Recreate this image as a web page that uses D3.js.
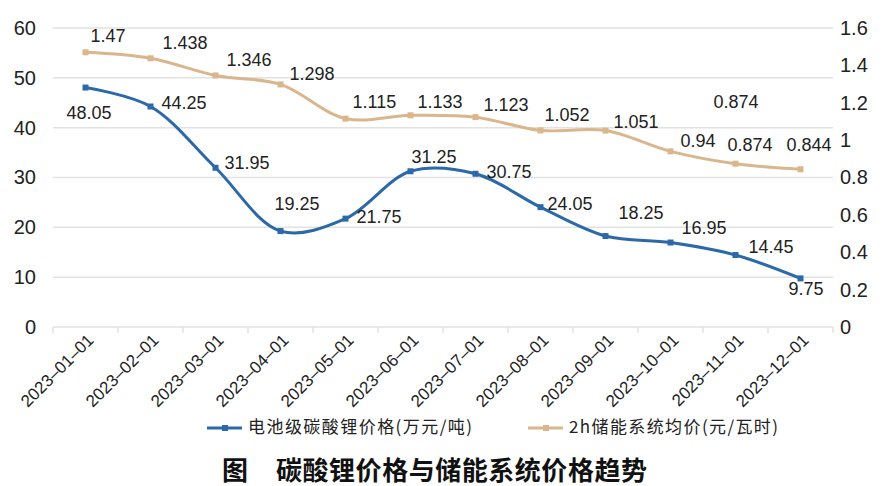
<!DOCTYPE html>
<html><head><meta charset="utf-8">
<script src="https://cdn.jsdelivr.net/npm/d3@7"></script>
<style>
html,body{margin:0;padding:0;background:#fff;}
svg{display:block;}
</style></head>
<body>
<svg id="c" width="891" height="486"></svg>
<script>
const categories = ["2023\u201301\u201301","2023\u201302\u201301","2023\u201303\u201301","2023\u201304\u201301","2023\u201305\u201301","2023\u201306\u201301","2023\u201307\u201301","2023\u201308\u201301","2023\u201309\u201301","2023\u201310\u201301","2023\u201311\u201301","2023\u201312\u201301"];
const lithiumPrice = [48.05,44.25,31.95,19.25,21.75,31.25,30.75,24.05,18.25,16.95,14.45,9.75];
const storagePrice = [1.47,1.438,1.346,1.298,1.115,1.133,1.123,1.052,1.051,0.94,0.874,0.844];
const leftTicks = [0,10,20,30,40,50,60];
const rightTicks = [0,0.2,0.4,0.6,0.8,1,1.2,1.4,1.6];
const seriesNames = ["电池级碳酸锂价格(万元/吨)","2h储能系统均价(元/瓦时)"];
const titleText = ["图","碳酸锂价格与储能系统价格趋势"];
const extraLabel = "0.874";

// label offsets (style/layout only)
const blueOff = [[-19,27],[11,-2],[9,-4],[-6,-26],[11,0],[1,-13],[11,-1],[7,-2],[13,-22],[11,-13],[13,-7],[-12,12]];
const tanOff = [[5,-15],[12,-14],[11,-14],[9,-9],[7,-15],[7,-12],[8,-11],[4,-14],[8,-7],[10,-9],[-8,-17],[-14,-23]];

const svg = d3.select("#c");
const blue = "#2c69a8", tan = "#d9b68b", grid = "#e2e2e2";
const font = "'Liberation Sans', Arial, sans-serif";
const cjk = "'Noto Sans CJK SC', 'Noto Sans', sans-serif";

const x = d3.scaleBand().domain(categories).range([53, 833]);
const cx = c => x(c) + x.bandwidth()/2;
const yL = d3.scaleLinear().domain([0,60]).range([327,28]);
const yR = d3.scaleLinear().domain([0,1.6]).range([327,28]);

// gridlines
svg.append("g").selectAll("line").data(leftTicks).join("line")
  .attr("x1",53).attr("x2",833)
  .attr("y1",d=>yL(d)).attr("y2",d=>yL(d))
  .attr("stroke",grid).attr("stroke-width",1.5);

// left axis
const gl = svg.append("g").attr("transform","translate(53,0)")
  .call(d3.axisLeft(yL).tickValues(leftTicks).tickSize(0).tickPadding(17));
gl.select(".domain").remove();
gl.selectAll("text").attr("font-family",font).attr("font-size",20).attr("fill","#222");

// right axis
const gr = svg.append("g").attr("transform","translate(833,0)")
  .call(d3.axisRight(yR).tickValues(rightTicks).tickSize(0).tickPadding(7).tickFormat(d=>String(+d.toFixed(1))));
gr.select(".domain").remove();
gr.selectAll("text").attr("font-family",font).attr("font-size",20).attr("fill","#222");

// bottom axis
const gb = svg.append("g").attr("transform","translate(0,327)")
  .call(d3.axisBottom(x).tickSize(0).tickPadding(0));
gb.select(".domain").remove();
gb.selectAll(".tick text")
  .attr("font-family",font).attr("font-size",17).attr("fill","#222")
  .attr("text-anchor","end")
  .attr("transform","translate(5,10) rotate(-45)")
  .attr("dy","0.35em");
// tick marks at band boundaries
const bounds = categories.map(c=>x(c)).concat([x(categories[categories.length-1])+x.bandwidth()]);
svg.append("g").selectAll("line").data(bounds).join("line")
  .attr("x1",d=>d).attr("x2",d=>d).attr("y1",327).attr("y2",333)
  .attr("stroke",grid).attr("stroke-width",1.5);

const curve = d3.curveCatmullRom.alpha(0.5);

function drawSeries(vals, yScale, color, offs){
  const pts = vals.map((v,i)=>[cx(categories[i]), yScale(v)]);
  svg.append("path").datum(pts)
    .attr("d", d3.line().curve(curve))
    .attr("fill","none").attr("stroke",color).attr("stroke-width",3);
  svg.append("g").selectAll("rect").data(pts).join("rect")
    .attr("x",d=>d[0]-3).attr("y",d=>d[1]-3).attr("width",6).attr("height",6)
    .attr("fill",color);
  svg.append("g").selectAll("text").data(vals).join("text")
    .attr("x",(v,i)=>pts[i][0]+offs[i][0])
    .attr("y",(v,i)=>pts[i][1]+offs[i][1])
    .attr("dominant-baseline","middle")
    .attr("font-family",font).attr("font-size",18).attr("fill","#222")
    .text(v=>String(v));
}
drawSeries(storagePrice, yR, tan, tanOff);
drawSeries(lithiumPrice, yL, blue, blueOff);

// stray duplicated label in the original
svg.append("text").attr("x", cx(categories[10]) - 22).attr("y", yR(storagePrice[10]) - 60)
  .attr("dominant-baseline","middle")
  .attr("font-family",font).attr("font-size",18).attr("fill","#222").text(extraLabel);

// legend
const legend = [
  {name: seriesNames[0], color: blue, x: 207, w: 224},
  {name: seriesNames[1], color: tan, x: 528, w: 209}
];
const lg = svg.append("g").selectAll("g").data(legend).join("g")
  .attr("transform",d=>`translate(${d.x},428)`);
lg.append("line").attr("x1",0).attr("x2",35).attr("y1",0).attr("y2",0)
  .attr("stroke",d=>d.color).attr("stroke-width",3);
lg.append("rect").attr("x",15).attr("y",-3).attr("width",6).attr("height",6).attr("fill",d=>d.color);
lg.append("text").attr("x",41).attr("y",0).attr("dominant-baseline","middle")
  .attr("font-family",cjk).attr("font-size",17).attr("fill","#222")
  .attr("textLength",d=>d.w).attr("lengthAdjust","spacing")
  .text(d=>d.name);

// title
svg.append("text").attr("x",222).attr("y",473).attr("dominant-baseline","middle")
  .attr("font-family",cjk).attr("font-size",26).attr("font-weight",700).attr("fill","#111").text(titleText[0]);
svg.append("text").attr("x",276).attr("y",473).attr("dominant-baseline","middle")
  .attr("font-family",cjk).attr("font-size",26).attr("font-weight",700).attr("fill","#111")
  .attr("textLength",371).attr("lengthAdjust","spacing").text(titleText[1]);
</script>
</body></html>
